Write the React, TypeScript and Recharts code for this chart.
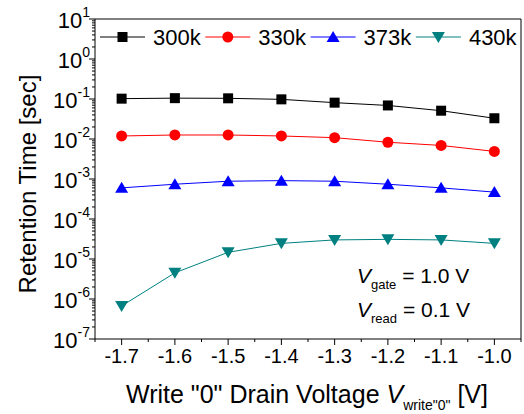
import { LineChart, Line, XAxis, YAxis, Legend, ReferenceLine } from 'recharts';

const voltages = [-1.7, -1.6, -1.5, -1.4, -1.3, -1.2, -1.1, -1.0];
const t300k = [0.102, 0.105, 0.104, 0.098, 0.081, 0.069, 0.051, 0.033];
const t330k = [0.0119, 0.0126, 0.0126, 0.0119, 0.0108, 0.0083, 0.0069, 0.0049];
const t373k = [6.0e-4, 7.4e-4, 8.8e-4, 9.1e-4, 8.8e-4, 7.4e-4, 6.0e-4, 4.7e-4];
const t430k = [6.7e-7, 4.5e-6, 1.47e-5, 2.46e-5, 3.0e-5, 3.1e-5, 3.0e-5, 2.46e-5];

const xMajor = [-1.7, -1.6, -1.5, -1.4, -1.3, -1.2, -1.1, -1.0];
const xMinor = [-1.75, -1.65, -1.55, -1.45, -1.35, -1.25, -1.15, -1.05, -0.95];
const yMajor = [1e-7, 1e-6, 1e-5, 1e-4, 1e-3, 1e-2, 1e-1, 1, 10];

// log minor ticks 2..9 per decade
const yMinor: number[] = [];
for (let e = -7; e < 1; e++) {
  for (let m = 2; m <= 9; m++) yMinor.push(m * Math.pow(10, e));
}

const series = [
  { key: 't300k', name: '300k', color: '#000000', shape: 'square' },
  { key: 't330k', name: '330k', color: '#ff0000', shape: 'circle' },
  { key: 't373k', name: '373k', color: '#0000ff', shape: 'up' },
  { key: 't430k', name: '430k', color: '#008080', shape: 'down' },
];

const data = voltages.map((v, i) => ({
  v,
  t300k: t300k[i],
  t330k: t330k[i],
  t373k: t373k[i],
  t430k: t430k[i],
}));

const FONT = '"Liberation Sans", Arial, sans-serif';
const PLOT_LEFT = 95;

const Marker = ({ cx, cy, shape, color }: any) => {
  if (cx == null || cy == null) return null;
  if (shape === 'square') return <rect x={cx - 5} y={cy - 5} width={10} height={10} fill={color} />;
  if (shape === 'circle') return <circle cx={cx} cy={cy} r={5.5} fill={color} />;
  if (shape === 'up')
    return <polygon points={`${cx},${cy - 6} ${cx - 6.5},${cy + 5} ${cx + 6.5},${cy + 5}`} fill={color} />;
  return <polygon points={`${cx},${cy + 6} ${cx - 6.5},${cy - 5} ${cx + 6.5},${cy - 5}`} fill={color} />;
};

const isMajorX = (v: number) => xMajor.some((m) => Math.abs(m - v) < 1e-6);
const isMajorY = (v: number) => yMajor.some((m) => Math.abs(m - v) / m < 1e-6);

const XTick = ({ x, y, payload }: any) => {
  const major = isMajorX(payload.value);
  return (
    <g>
      <line x1={x} y1={y} x2={x} y2={y + (major ? 6 : 3)} stroke="#000" />
      {major && (
        <text x={x} y={y + 24} textAnchor="middle" fontSize={20} fontFamily={FONT} fill="#000">
          {payload.value.toFixed(1)}
        </text>
      )}
    </g>
  );
};

const YTick = ({ y, payload }: any) => {
  const major = isMajorY(payload.value);
  const exp = Math.round(Math.log10(payload.value));
  return (
    <g>
      <line x1={PLOT_LEFT} y1={y} x2={PLOT_LEFT - (major ? 6 : 3)} y2={y} stroke="#000" />
      {major && (
        <text x={PLOT_LEFT - 5} y={y + 9} textAnchor="end" fontSize={22} fontFamily={FONT} fill="#000">
          <tspan>10</tspan>
          <tspan dy={-11} fontSize={14}>{exp}</tspan>
        </text>
      )}
    </g>
  );
};

const LegendBox = () => (
  <svg width={424} height={30} style={{ display: 'block' }}>
    {series.map((s, i) => {
      const x0 = 2 + i * 105.3;
      return (
        <g key={s.key}>
          <line x1={x0} y1={15} x2={x0 + 45} y2={15} stroke={s.color} />
          <Marker cx={x0 + 22.5} cy={15} shape={s.shape} color={s.color} />
          <text x={x0 + 53} y={23} fontSize={22} fontFamily={FONT} fill="#000">
            {s.name}
          </text>
        </g>
      );
    })}
  </svg>
);

const XLabel = () => (
  <text x={307} y={403} textAnchor="middle" fontSize={25} fontFamily={FONT} fill="#000">
    <tspan>Write "0" Drain Voltage </tspan>
    <tspan fontStyle="italic">V</tspan>
    <tspan dy={7} fontSize={14}>write"0"</tspan>
    <tspan dy={-7}> [V]</tspan>
  </text>
);

const YLabel = () => (
  <text
    x={36}
    y={184}
    transform="rotate(-90 36 184)"
    textAnchor="middle"
    fontSize={24}
    fontFamily={FONT}
    fill="#000"
  >
    Retention Time [sec]
  </text>
);

export default function App() {
  return (
    <div style={{ position: 'fixed', left: 0, top: 0, width: 524, height: 414, background: '#fff' }}>
      <LineChart width={524} height={414} data={data} margin={{ top: 19, right: 0, bottom: 0, left: 0 }}>
        <XAxis
          dataKey="v"
          type="number"
          domain={[-1.75, -0.95]}
          ticks={[...xMajor, ...xMinor]}
          interval={0}
          tick={<XTick />}
          tickLine={false}
          tickSize={0}
          tickMargin={0}
          height={75}
          axisLine={{ stroke: '#000' }}
          label={<XLabel />}
        />
        <YAxis
          yAxisId="l"
          scale="log"
          domain={[1e-7, 10]}
          allowDataOverflow
          ticks={[...yMajor, ...yMinor]}
          interval={0}
          tick={<YTick />}
          tickLine={false}
          tickSize={0}
          tickMargin={0}
          width={95}
          axisLine={{ stroke: '#000' }}
          label={<YLabel />}
        />
        <YAxis
          yAxisId="r"
          orientation="right"
          scale="log"
          domain={[1e-7, 10]}
          allowDataOverflow
          ticks={yMajor}
          interval={0}
          tick={false}
          tickSize={3}
          width={3}
          axisLine={{ stroke: '#000' }}
          tickLine={{ stroke: '#000' }}
        />
        <ReferenceLine yAxisId="l" y={10} stroke="#000" />
        <Legend
          layout="horizontal"
          verticalAlign="middle"
          align="center"
          content={<LegendBox />}
          wrapperStyle={{ position: 'absolute', top: 22, left: 98, width: 424 }}
        />
        {series.map((s) => (
          <Line
            key={s.key}
            yAxisId="l"
            dataKey={s.key}
            name={s.name}
            stroke={s.color}
            strokeWidth={1}
            isAnimationActive={false}
            dot={(p: any) => <Marker key={`${s.key}-${p.index}`} cx={p.cx} cy={p.cy} shape={s.shape} color={s.color} />}
            activeDot={false}
          />
        ))}
      </LineChart>
      <svg
        width={524}
        height={414}
        style={{ position: 'absolute', left: 0, top: 0, pointerEvents: 'none' }}
      >
        <text x={357} y={283} fontSize={21} fontFamily={FONT} fill="#000">
          <tspan fontStyle="italic">V</tspan>
          <tspan dy={6} fontSize={13}>gate</tspan>
          <tspan dy={-6}> = 1.0 V</tspan>
        </text>
        <text x={357} y={317} fontSize={21} fontFamily={FONT} fill="#000">
          <tspan fontStyle="italic">V</tspan>
          <tspan dy={6} fontSize={13}>read</tspan>
          <tspan dy={-6}> = 0.1 V</tspan>
        </text>
      </svg>
    </div>
  );
}
